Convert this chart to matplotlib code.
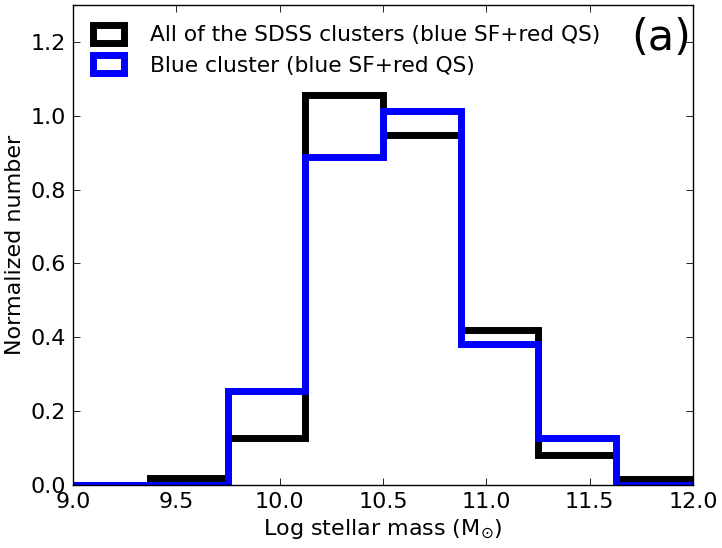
import matplotlib.pyplot as plt
import numpy as np

# bin edges in log stellar mass
edges = [9.0, 9.375, 9.75, 10.125, 10.5, 10.875, 11.25, 11.625, 12.0]
all_sdss = [0.0, 0.02, 0.126, 1.056, 0.949, 0.419, 0.08, 0.016]
blue_cl = [0.0, 0.0, 0.255, 0.887, 1.014, 0.381, 0.128, 0.0]
lab_all = 'All of the SDSS clusters (blue SF+red QS)'
lab_blue = 'Blue cluster (blue SF+red QS)'

fig = plt.figure(figsize=(7.22, 5.48), dpi=100)
ax = fig.add_axes([0.101, 0.115, 0.859, 0.876])

centers = 0.5 * (np.array(edges[:-1]) + np.array(edges[1:]))
ax.hist(centers, bins=edges, weights=all_sdss, histtype='step',
        color='k', linewidth=5, label=lab_all)
ax.hist(centers, bins=edges, weights=blue_cl, histtype='step',
        color='b', linewidth=5, label=lab_blue)

ax.set_xlim(9.0, 12.0)
ax.set_ylim(0, 1.3)
ax.set_xticks(np.arange(9.0, 12.01, 0.5))
ax.set_yticks(np.arange(0, 1.21, 0.2))
ax.xaxis.set_major_formatter(plt.FormatStrFormatter('%.1f'))
ax.yaxis.set_major_formatter(plt.FormatStrFormatter('%.1f'))
ax.tick_params(direction='in', top=True, right=True, length=5, width=0.6,
               labelsize=16, pad=5)
for s in ax.spines.values():
    s.set_linewidth(1)
ax.set_xlabel(r'Log stellar mass (M$_{\odot}$)', fontsize=16)
ax.set_ylabel('Normalized number', fontsize=16)
ax.legend(loc='upper left', frameon=False, fontsize=15.7, handlelength=1.45,
          handleheight=0.9, borderaxespad=0.5, handletextpad=1.2,
          labelspacing=0.45)
ax.text(0.997, 0.975, '(a)', transform=ax.transAxes, ha='right', va='top',
        fontsize=31)

fig.savefig('out.png', dpi=100)
